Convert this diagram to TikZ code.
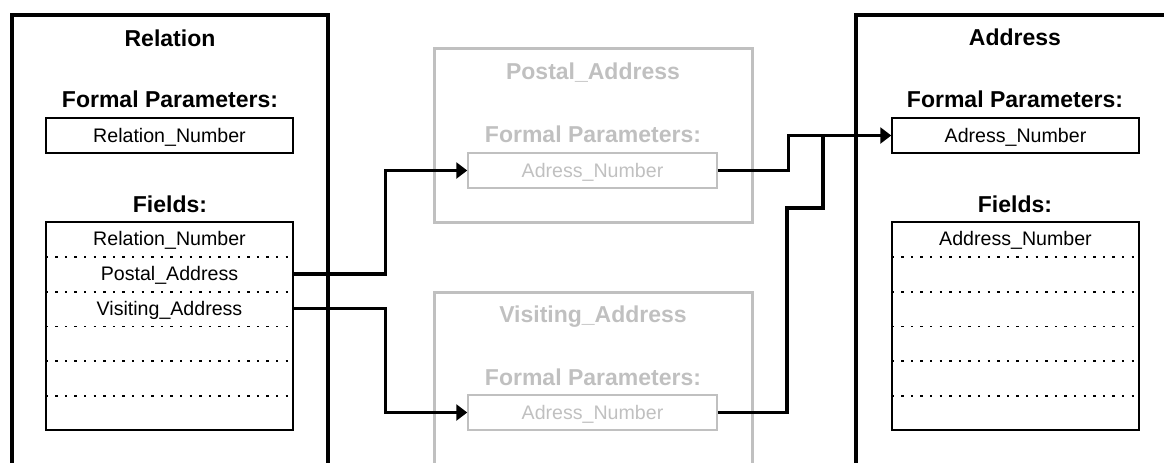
\documentclass[tikz,border=0pt]{standalone}
\usepackage{fontspec}
\setmainfont{Liberation Sans}
\usetikzlibrary{arrows.meta, positioning, calc}
\definecolor{ghost}{RGB}{192,192,192}

\begin{document}
\begin{tikzpicture}[
        x=0.5pt, y=-0.5pt,
        every node/.style={font=\fontsize{9.8}{12}\selectfont, inner sep=0pt},
        head/.style={font=\fontsize{11.5}{14}\selectfont\bfseries, anchor=base},
        frame/.style={draw, line width=2pt, minimum width=158pt, minimum height=237.5pt},
        ghostframe/.style={draw=ghost, line width=1.5pt, minimum width=159pt},
        parbox/.style={draw, line width=0.75pt, minimum width=123.5pt, minimum height=17.5pt, text height=6.5pt, text depth=0pt},
        row/.style={minimum width=123.5pt, minimum height=17.35pt, text height=6.5pt, text depth=0pt},
        sep/.style={line width=0.8pt, dash pattern=on 1.2pt off 3.6pt},
        conn/.style={line width=1.7pt},
        arrowstyle/.style={conn, -{Triangle[length=5.5pt, width=8pt]}}
    ]
        \clip (0,0) rectangle (1164,462);

        \node[frame] (rel) at (170,252.5) {};
        \node[head] (reltitle) at (170,46) {Relation};
        \node[head] (relformal) at (170,107) {Formal Parameters:};
        \node[parbox] (relpar) at (169.5,135.5) {Relation\_Number};
        \node[head] (relfieldlbl) at (170,212) {Fields:};
        \node[parbox, minimum height=104.1pt] (relfields) at (169.5,326.1) {};
        \foreach \i/\t in {1/Relation\_Number, 2/Postal\_Address, 3/Visiting\_Address, 4/{}, 5/{}, 6/{}}
            \node[row] (r\i) at (169.5,{222+(\i-0.5)*34.7}) {\t};
        \foreach \i in {1,...,5}
            \draw[sep] (r\i.south west) -- (r\i.south east);

        \node[ghostframe, minimum height=87pt] (post) at (593,135) {};
        \node[head, text=ghost] (posttitle) at (593,79) {Postal\_Address};
        \node[head, text=ghost] (postformal) at (593,142) {Formal Parameters:};
        \node[parbox, draw=ghost, text=ghost, minimum width=124.5pt] (postpar) at (592.5,170.5) {Adress\_Number};

        \node[ghostframe, minimum height=94pt] (visit) at (593,386) {};
        \node[head, text=ghost] (visittitle) at (593,322) {Visiting\_Address};
        \node[head, text=ghost] (visitformal) at (593,385) {Formal Parameters:};
        \node[parbox, draw=ghost, text=ghost, minimum width=124.5pt] (visitpar) at (592.5,412.5) {Adress\_Number};

        \node[frame, minimum width=172pt] (addr) at (1028,252.5) {};
        \node[head] (addrtitle) at (1015,45) {Address};
        \node[head] (addrformal) at (1015,107) {Formal Parameters:};
        \node[parbox] (addrpar) at (1015.5,135.5) {Adress\_Number};
        \node[head] (addrfieldlbl) at (1015,212) {Fields:};
        \node[parbox, minimum height=104.1pt] (addrfields) at (1015.5,326.1) {};
        \foreach \i/\t in {1/Address\_Number, 2/{}, 3/{}, 4/{}, 5/{}, 6/{}}
            \node[row] (a\i) at (1015.5,{222+(\i-0.5)*34.7}) {\t};
        \foreach \i in {1,...,5}
            \draw[sep] (a\i.south west) -- (a\i.south east);

        \draw[arrowstyle] (r2.east) -- ++(92,0) |- (postpar.west);
        \draw[arrowstyle] (r3.east) -- ++(92,0) |- (visitpar.west);
        \draw[arrowstyle] (postpar.east) -- ++(71,0) |- (addrpar.west);
        \coordinate (join) at (823,0 |- addrpar.west);
        \draw[conn] (visitpar.east) -| (787,208) -| (join);
    \end{tikzpicture}
\end{document}
